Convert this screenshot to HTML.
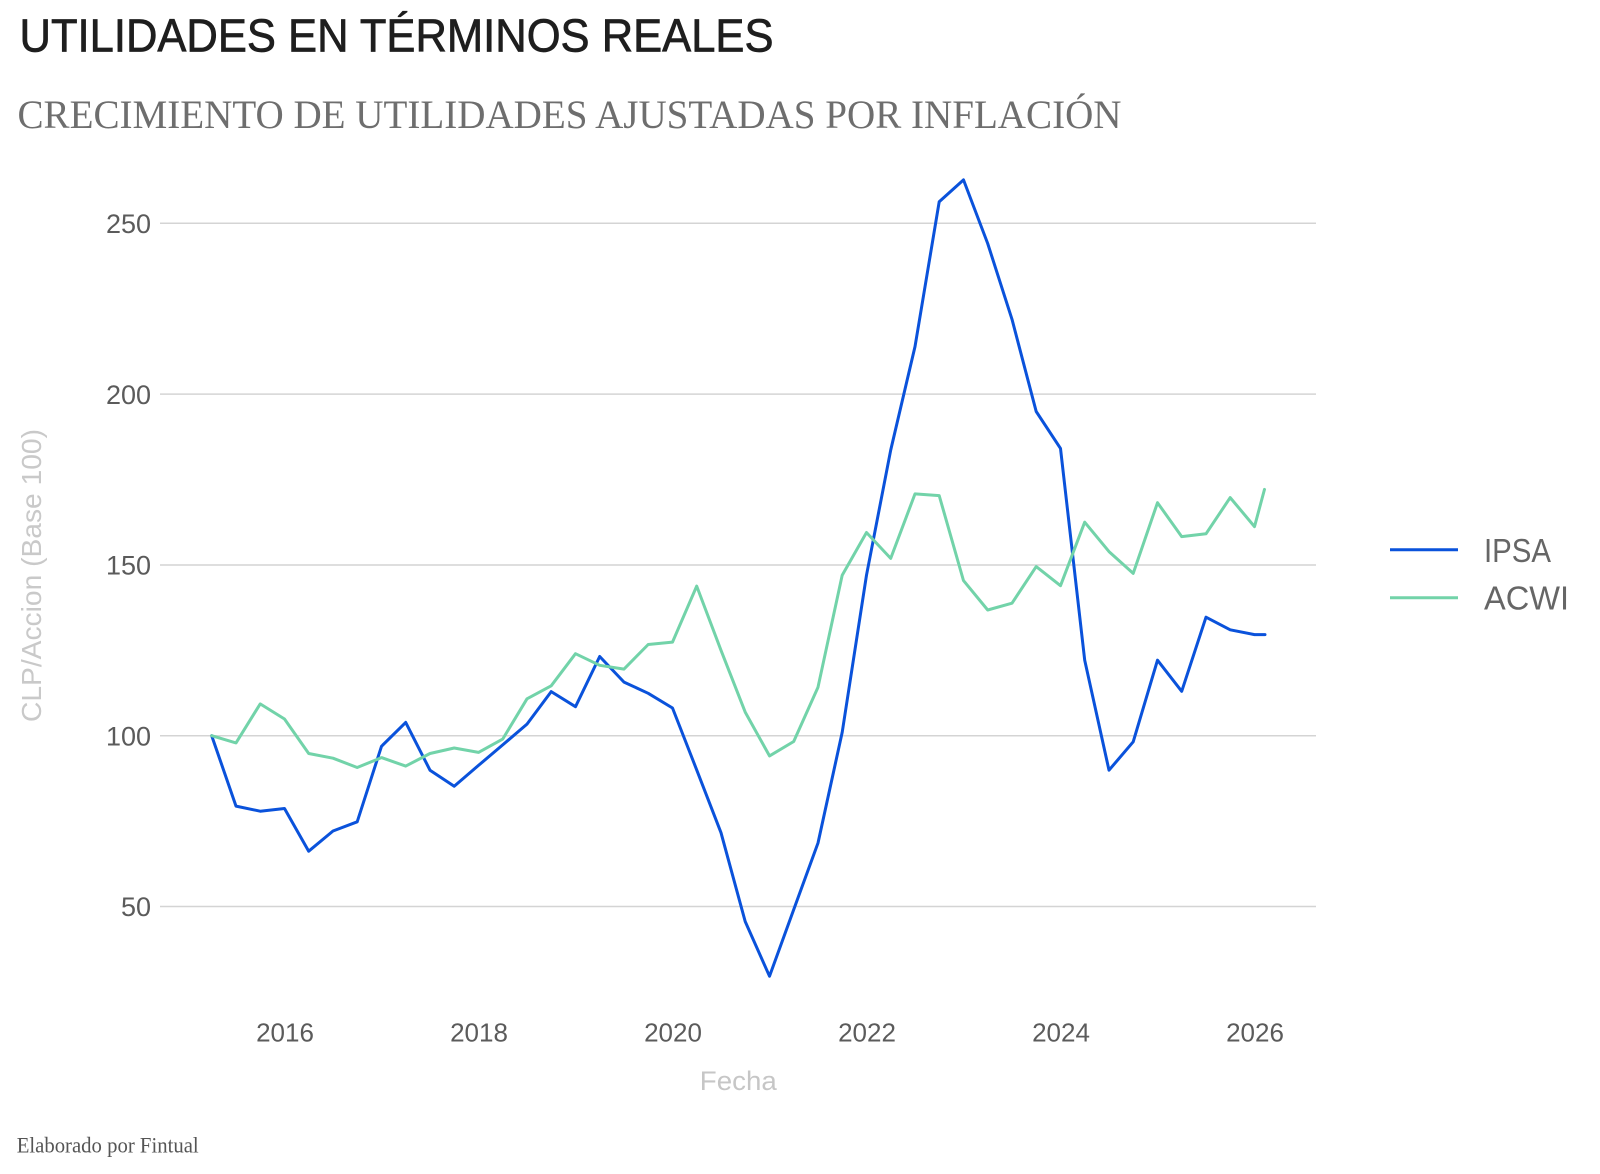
<!DOCTYPE html>
<html>
<head>
<meta charset="utf-8">
<style>
  html, body { margin: 0; padding: 0; background: #ffffff; }
  body { width: 1600px; height: 1174px; overflow: hidden; }
  svg { display: block; }
</style>
</head>
<body>
<svg width="1600" height="1174" viewBox="0 0 1600 1174" xmlns="http://www.w3.org/2000/svg">
  <rect x="0" y="0" width="1600" height="1174" fill="#ffffff"/>

  <!-- Title -->
  <text x="19.5" y="51.5" font-family="'Liberation Sans', sans-serif" font-size="46" fill="#1e1e1e" stroke="#1e1e1e" stroke-width="0.7" textLength="754" lengthAdjust="spacingAndGlyphs">UTILIDADES EN TÉRMINOS REALES</text>
  <!-- Subtitle -->
  <text x="17.5" y="128" font-family="'Liberation Serif', serif" font-size="40" fill="#6e6e6e" textLength="1104" lengthAdjust="spacingAndGlyphs">CRECIMIENTO DE UTILIDADES AJUSTADAS POR INFLACIÓN</text>

  <!-- Gridlines -->
  <g stroke="#d4d4d4" stroke-width="1.5">
    <line x1="160" y1="223.3" x2="1316" y2="223.3"/>
    <line x1="160" y1="394.1" x2="1316" y2="394.1"/>
    <line x1="160" y1="565" x2="1316" y2="565"/>
    <line x1="160" y1="735.7" x2="1316" y2="735.7"/>
    <line x1="160" y1="906.5" x2="1316" y2="906.5"/>
  </g>

  <!-- Y tick labels -->
  <g font-family="'Liberation Sans', sans-serif" font-size="27" fill="#5b5b5b" text-anchor="end">
    <text x="151" y="233">250</text>
    <text x="151" y="403.8">200</text>
    <text x="151" y="574.7">150</text>
    <text x="151" y="745.4">100</text>
    <text x="151" y="916.2">50</text>
  </g>

  <!-- X tick labels -->
  <g font-family="'Liberation Sans', sans-serif" font-size="26" fill="#5b5b5b" text-anchor="middle">
    <text x="285" y="1041.5">2016</text>
    <text x="479" y="1041.5">2018</text>
    <text x="673" y="1041.5">2020</text>
    <text x="867" y="1041.5">2022</text>
    <text x="1061" y="1041.5">2024</text>
    <text x="1255" y="1041.5">2026</text>
  </g>

  <!-- Axis titles -->
  <text x="738.3" y="1090" font-family="'Liberation Sans', sans-serif" font-size="26.5" fill="#c6c6c6" text-anchor="middle" textLength="77" lengthAdjust="spacingAndGlyphs">Fecha</text>
  <text transform="translate(41,575.5) rotate(-90)" x="0" y="0" font-family="'Liberation Sans', sans-serif" font-size="28" fill="#c9c9c9" text-anchor="middle" textLength="293" lengthAdjust="spacingAndGlyphs">CLP/Accion (Base 100)</text>

  <!-- Series: IPSA -->
  <polyline fill="none" stroke="#0a52db" stroke-width="3" stroke-linejoin="round" stroke-linecap="round"
    points="211.7,735.7 236.0,806.1 260.2,811.2 284.5,808.5 308.7,851.2 333.0,831.0 357.2,821.8 381.5,746.3 405.7,722.4 430.0,770.2 454.2,786.3 478.5,765.4 502.7,744.9 527.0,724.1 551.2,691.6 575.5,706.7 599.7,656.5 624.0,682.1 648.2,693.3 672.5,708.0 696.7,769.9 721.0,832.7 745.2,921.5 769.5,976.2 793.7,909.6 818.0,843.0 842.2,732.3 866.5,575.1 890.7,450.1 915.0,346.6 939.2,201.8 963.5,179.9 987.7,243.5 1012.0,319.3 1036.2,411.5 1060.5,448.4 1084.7,660.2 1109.0,770.2 1133.2,741.8 1157.5,660.2 1181.7,691.3 1206.0,617.2 1230.2,629.8 1254.5,634.6 1265,634.6"/>

  <!-- Series: ACWI -->
  <polyline fill="none" stroke="#72d3a9" stroke-width="3" stroke-linejoin="round" stroke-linecap="round"
    points="211.7,735.7 236.0,742.9 260.2,703.9 284.5,719.0 308.7,753.5 333.0,758.2 357.2,767.5 381.5,757.6 405.7,766.1 430.0,753.5 454.2,748.0 478.5,752.4 502.7,739.1 527.0,698.8 551.2,685.8 575.5,653.7 599.7,665.3 624.0,669.1 648.2,644.5 672.5,642.1 696.7,586.1 721.0,650.3 745.2,712.1 769.5,755.9 793.7,741.5 818.0,687.2 842.2,575.2 866.5,532.5 890.7,558.4 915.0,493.9 939.2,495.6 963.5,580.6 987.7,610.0 1012.0,603.2 1036.2,566.6 1060.5,585.7 1084.7,522.2 1109.0,551.6 1133.2,573.4 1157.5,502.7 1181.7,536.6 1206.0,533.8 1230.2,497.6 1254.5,526.6 1264.5,489.4"/>

  <!-- Legend -->
  <line x1="1390" y1="549.7" x2="1458" y2="549.7" stroke="#0a52db" stroke-width="3"/>
  <line x1="1390" y1="597.7" x2="1458" y2="597.7" stroke="#72d3a9" stroke-width="3"/>
  <text x="1484" y="562" font-family="'Liberation Sans', sans-serif" font-size="33" fill="#666666" textLength="67" lengthAdjust="spacingAndGlyphs">IPSA</text>
  <text x="1484" y="609.5" font-family="'Liberation Sans', sans-serif" font-size="33" fill="#666666" textLength="85" lengthAdjust="spacingAndGlyphs">ACWI</text>

  <!-- Footer -->
  <text x="16.7" y="1152.7" font-family="'Liberation Serif', serif" font-size="21.7" fill="#555555" textLength="182" lengthAdjust="spacingAndGlyphs">Elaborado por Fintual</text>
</svg>
</body>
</html>
